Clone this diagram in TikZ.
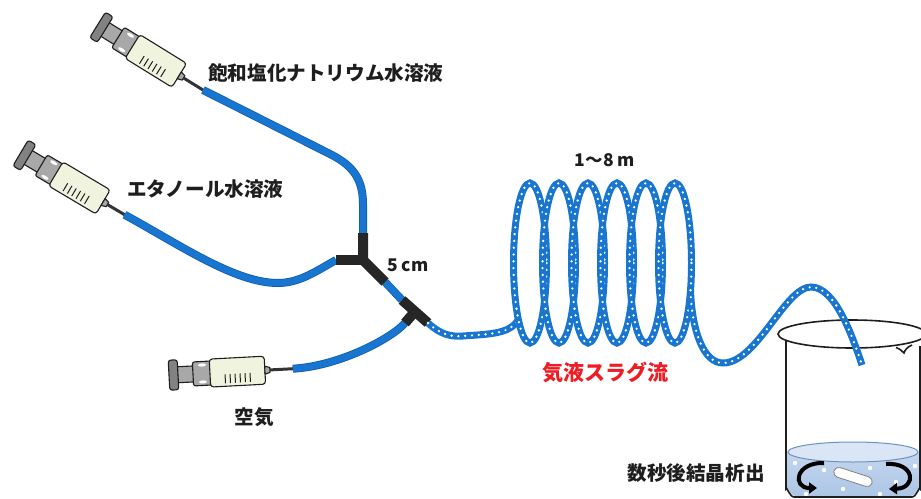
\documentclass[tikz,border=0pt]{standalone}
\usepackage{fontspec}
\newfontfamily\jp{Noto Sans CJK JP}
\usetikzlibrary{arrows.meta}
\definecolor{tubeblue}{RGB}{24,117,208}
\definecolor{tubeedge}{RGB}{16,92,170}
\definecolor{barrelc}{RGB}{240,244,222}
\definecolor{partgray}{RGB}{168,168,168}
\definecolor{capgray}{RGB}{130,130,130}
\definecolor{inkc}{RGB}{30,30,30}
\definecolor{slugred}{RGB}{240,28,36}
\definecolor{liquidlo}{RGB}{172,198,230}
\definecolor{liquidhi}{RGB}{196,214,238}
\definecolor{liquidtop}{RGB}{218,230,245}
\definecolor{liquidedge}{RGB}{110,145,190}

\begin{document}
\begin{tikzpicture}[x=1pt,y=-1pt,
  outl/.style={draw=inkc, line width=1.1pt, line join=round},
  tube/.style={draw=tubeblue, line width=6.5pt, preaction={draw=tubeedge, line width=8pt}},
  slug/.style={draw=tubeblue, line width=7pt,
    postaction={draw=white, line width=2.6pt, dash pattern=on 0pt off 6.8pt, line cap=round}},
  joint/.style={draw=black!85, line width=10pt},
  glass/.style={draw=inkc, line width=1.6pt},
  txt/.style={font=\jp\bfseries\fontsize{19.6}{19.6}\selectfont, text=inkc, inner sep=0pt},
  txtsm/.style={font=\jp\bfseries\fontsize{17.5}{17.5}\selectfont, text=inkc, inner sep=0pt},
  stir/.style={draw=black, line width=4pt, -{Triangle[length=8pt,width=11pt]}},
  syringe/.pic={
    % plunger rod
    \draw[outl, fill=partgray] (4,-8) rectangle (22,8);
    % thumb rest
    \draw[outl, fill=capgray, rounded corners=2.5pt] (-4,-15) rectangle (5,15);
    % finger grip
    \draw[outl, fill=partgray, rounded corners=2pt] (20,-12) rectangle (39,12);
    \fill[white] (29.5,-8.5) ellipse (4 and 1.6);
    \fill[white] (29.5,8.5) ellipse (4 and 1.6);
    % barrel with graduations
    \draw[outl, fill=barrelc, rounded corners=3pt] (37,-14) rectangle (92,14);
    \foreach \k in {0,...,5} \draw[inkc, line width=1pt] ({52+5*\k},2) -- ({52+5*\k},11);
    % nozzle and needle
    \draw[outl, fill=partgray] (92,-4) -- (97,-2.5) -- (97,2.5) -- (92,4) -- cycle;
    \draw[line width=3pt, draw=black!80] (97,0) -- (#1,0);
    \coordinate (-tip) at (#1,0);
  }
]
\useasboundingbox (0,0) rectangle (921,498);

% syringes
\pic[rotate=-31.7] (s1) at (101,27) {syringe=120};
\pic[rotate=-30.7] (s2) at (24,155) {syringe=117};
\pic[rotate=3] (s3) at (173,375) {syringe=120};

% junction points
\coordinate (j1) at (363,260);
\coordinate (j1up) at (363,233);
\coordinate (j1left) at (336,260);
\coordinate (j1out) at (385,282);
\coordinate (j2a) at (402,300);
\coordinate (j2b) at (428,323);
\coordinate (j2) at (415,311.5);
\coordinate (j2stem) at (405,323);

% feed tubes
\draw[tube] (s1-tip) -- (330,154) .. controls (356,167) and (363,182) .. (363,205) -- (j1up);
\draw[tube] (s2-tip) .. controls (180,245) and (235,283) .. (278,283)
  .. controls (300,283) and (318,270) .. (j1left);
\draw[tube] (j1out) -- (j2a);
\draw[tube] (s3-tip) .. controls (340,366) and (392,338) .. (j2stem);

% connectors
\draw[joint, line join=round] (j1up) -- (j1) -- (j1out);
\draw[joint] (j1left) -- (j1);
\fill[black!85] (j1) circle (5);
\draw[joint] (j2a) -- (j2b);
\draw[joint] (j2) -- (j2stem);

% beaker with stirred liquid
\shade[top color=liquidhi, bottom color=liquidlo]
  (787,452) -- (787,489) to[out=90,in=180] (795,496) -- (911,496) to[out=0,in=90] (919,489) -- (919,452) -- cycle;
\draw[liquidedge, fill=liquidtop, line width=1pt] (853,452) ellipse (65 and 10);
\foreach \p in {(795,463),(843,489),(870,468),(915,466),(896,482),(806,494),(824,470),(880,494)}
  \fill[white] \p circle (2.2);
\draw[gray, fill=white, line width=0.8pt, rounded corners=5pt, rotate around={-18:(853,477)}]
  (833,472) rectangle (873,482);
\draw[stir] (824,463) .. controls (795,462) and (792,488) .. (817,488);
\draw[stir] (886,464) .. controls (915,462) and (917,488) .. (889,489);
\draw[glass] (786,340) -- (786,489) to[out=90,in=180] (794,497) -- (912,497) to[out=0,in=90] (920,489) -- (920,346);
\draw[glass] (852,334) ellipse (74 and 14);
\draw[glass] (896,347.5) .. controls (900,349) and (902,351) .. (904,353) .. controls (905,350) and (907,347) .. (912,345);

% gas-liquid slug line: inlet, coil turns, outlet into the beaker
\coordinate (cin) at (518.3,319.6);
\coordinate (cout) at (690.5,290.4);
\draw[slug] (j2b) .. controls (440,334) and (450,337) .. (463,336)
  .. controls (490,334) and (510,334) .. (cin);
\foreach \n in {0,...,5}
  \draw[slug] ({530+29*\n},263) ellipse (16.5 and 80);
\draw[slug] (cout) .. controls (692,330) and (703,363) .. (723,363)
  .. controls (757,363) and (785,287) .. (811,287)
  .. controls (835,287) and (852,335) .. (862,365);

% labels
\node[txt, anchor=west] (l1) at (208,73) {飽和塩化ナトリウム水溶液};
\node[txt, anchor=west] (l2) at (127,189) {エタノール水溶液};
\node[txtsm, anchor=west] (l3) at (387,265) {5 cm};
\node[txtsm] (l4) at (605,160) {1～8 m};
\node[txt, text=slugred, font=\jp\bfseries\fontsize{21}{21}\selectfont] (l5) at (605,372) {気液スラグ流};
\node[txt] (l6) at (254,417) {空気};
\node[txt] (l7) at (696,473) {数秒後結晶析出};
\end{tikzpicture}
\end{document}
